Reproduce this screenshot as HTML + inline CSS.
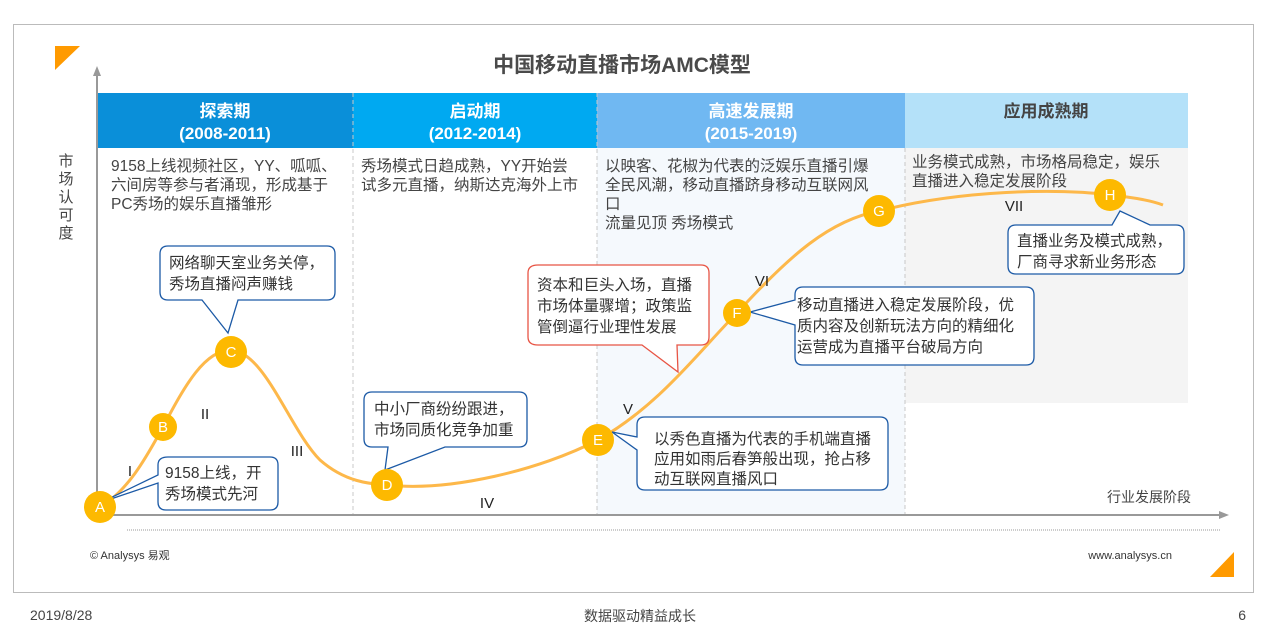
<!DOCTYPE html>
<html><head><meta charset="utf-8"><style>
html,body{margin:0;padding:0;background:#fff;}
svg{display:block;font-family:"Liberation Sans","Noto Sans CJK SC",sans-serif;}
</style></head><body>
<svg width="1280" height="643" viewBox="0 0 1280 643" xmlns="http://www.w3.org/2000/svg">
<rect x="13.5" y="24.5" width="1240" height="568" fill="#fff" stroke="#bbb" stroke-width="1"/>
<polygon points="55,46 80,46 55,70" fill="#ff9a00"/>
<polygon points="1234,552 1234,577 1210,577" fill="#ff9a00"/>
<text x="622" y="72" text-anchor="middle" font-size="21" font-weight="bold" fill="#4a4a4a">中国移动直播市场AMC模型</text>
<rect x="97" y="148" width="256" height="367" fill="#fff"/>
<rect x="353" y="148" width="244" height="367" fill="#fff"/>
<rect x="597" y="148" width="308" height="367" fill="#f5f9fd"/>
<rect x="905" y="148" width="283" height="255" fill="#f4f4f4"/>
<rect x="97" y="93" width="256" height="55" fill="#0a8fd9"/>
<rect x="353" y="93" width="244" height="55" fill="#00a9f1"/>
<rect x="597" y="93" width="308" height="55" fill="#70b8f2"/>
<rect x="905" y="93" width="283" height="55" fill="#b4e1f9"/>
<g font-size="17" font-weight="bold" fill="#fff" text-anchor="middle">
<text x="225" y="117">探索期</text><text x="225" y="139">(2008-2011)</text>
<text x="475" y="117">启动期</text><text x="475" y="139">(2012-2014)</text>
<text x="751" y="117">高速发展期</text><text x="751" y="139">(2015-2019)</text>
<text x="1046" y="117" fill="#444">应用成熟期</text>
</g>
<g stroke="#c8c8c8" stroke-dasharray="4,3" stroke-width="1">
<line x1="353" y1="93" x2="353" y2="515"/><line x1="597" y1="93" x2="597" y2="515"/><line x1="905" y1="148" x2="905" y2="515"/>
</g>
<line x1="97" y1="515" x2="97" y2="72" stroke="#999" stroke-width="2"/>
<polygon points="97,66 93,76 101,76" fill="#999"/>
<line x1="97" y1="515" x2="1222" y2="515" stroke="#999" stroke-width="2"/>
<polygon points="1229,515 1219,511 1219,519" fill="#999"/>
<line x1="127" y1="530" x2="1220" y2="530" stroke="#999" stroke-dasharray="1,1"/>
<g font-size="15" fill="#444" text-anchor="middle">
<text x="66" y="166">市</text><text x="66" y="184">场</text><text x="66" y="202">认</text><text x="66" y="220">可</text><text x="66" y="238">度</text>
</g>
<text x="1149" y="502" font-size="14" fill="#444" text-anchor="middle">行业发展阶段</text>
<g font-size="15.5" fill="#444">
<text x="111" y="171">9158上线视频社区，YY、呱呱、</text>
<text x="111" y="190">六间房等参与者涌现，形成基于</text>
<text x="111" y="209">PC秀场的娱乐直播雏形</text>
<text x="361" y="171">秀场模式日趋成熟，YY开始尝</text>
<text x="361" y="190">试多元直播，纳斯达克海外上市</text>
<text x="605" y="171">以映客、花椒为代表的泛娱乐直播引爆</text>
<text x="605" y="190">全民风潮，移动直播跻身移动互联网风</text>
<text x="605" y="209">口</text>
<text x="605" y="228">流量见顶  秀场模式</text>
<text x="912" y="167">业务模式成熟，市场格局稳定，娱乐</text>
<text x="912" y="186">直播进入稳定发展阶段</text>
</g>
<path d="M100,507 C130,490 150,450 163,427 C185,385 205,350 231,350 C265,352 290,430 320,460 C345,482 370,484 387,485 C450,492 540,470 598,440 C660,405 700,350 737,313 C790,255 830,220 879,211 C960,190 1060,188 1110,195 C1130,197 1150,200 1163,205" fill="none" stroke="#fdb84a" stroke-width="3"/>
<g font-size="15" fill="#222" text-anchor="middle">
<text x="130" y="476">I</text><text x="205" y="419">II</text><text x="297" y="456">III</text><text x="487" y="508">IV</text><text x="628" y="414">V</text><text x="762" y="286">VI</text><text x="1014" y="211">VII</text>
</g>
<g fill="#fff" stroke="#1c5aa6" stroke-width="1.3">
<path d="M168,457 H270 Q278,457 278,465 V502 Q278,510 270,510 H166 Q158,510 158,502 V483 L102,502 L158,475 V465 Q158,457 168,457 Z"/>
<path d="M168,246 H327 Q335,246 335,254 V292 Q335,300 327,300 H238 L228,333 L202,300 H168 Q160,300 160,292 V254 Q160,246 168,246 Z"/>
<path d="M372,392 H519 Q527,392 527,400 V439 Q527,447 519,447 H445 L385,470 L388,447 H372 Q364,447 364,439 V400 Q364,392 372,392 Z"/>
<path d="M645,417 H880 Q888,417 888,425 V482 Q888,490 880,490 H645 Q637,490 637,482 V450 L612,432 L637,437 V425 Q637,417 645,417 Z"/>
<path d="M803,287 H1026 Q1034,287 1034,295 V357 Q1034,365 1026,365 H803 Q795,365 795,357 V325 L750,312 L795,300 V295 Q795,287 803,287 Z"/>
<path d="M1016,225 H1112 L1120,211 L1150,225 H1176 Q1184,225 1184,233 V266 Q1184,274 1176,274 H1016 Q1008,274 1008,266 V233 Q1008,225 1016,225 Z"/>
</g>
<path d="M538,265 H701 Q709,265 709,273 V337 Q709,345 701,345 H677 L678,372 L642,345 H538 Q528,345 528,337 V273 Q528,265 538,265 Z" fill="#fff" stroke="#e85545" stroke-width="1.3"/>
<g font-size="15.5" fill="#333">
<text x="165" y="478">9158上线，开</text><text x="165" y="499">秀场模式先河</text>
<text x="169" y="268">网络聊天室业务关停，</text><text x="169" y="289">秀场直播闷声赚钱</text>
<text x="374" y="414">中小厂商纷纷跟进，</text><text x="374" y="435">市场同质化竞争加重</text>
<text x="537" y="290">资本和巨头入场，直播</text><text x="537" y="311">市场体量骤增；政策监</text><text x="537" y="332">管倒逼行业理性发展</text>
<text x="654" y="444">以秀色直播为代表的手机端直播</text><text x="654" y="464">应用如雨后春笋般出现，抢占移</text><text x="654" y="484">动互联网直播风口</text>
<text x="797" y="310">移动直播进入稳定发展阶段，优</text><text x="797" y="331">质内容及创新玩法方向的精细化</text><text x="797" y="352">运营成为直播平台破局方向</text>
<text x="1017" y="246">直播业务及模式成熟，</text><text x="1017" y="267">厂商寻求新业务形态</text>
</g>
<g fill="#fdb900">
<circle cx="100" cy="507" r="16"/><circle cx="163" cy="427" r="14"/><circle cx="231" cy="352" r="16"/><circle cx="387" cy="485" r="16"/><circle cx="598" cy="440" r="16"/><circle cx="737" cy="313" r="14"/><circle cx="879" cy="211" r="16"/><circle cx="1110" cy="195" r="16"/>
</g>
<g font-size="15" fill="#fff" text-anchor="middle">
<text x="100" y="512">A</text><text x="163" y="432">B</text><text x="231" y="357">C</text><text x="387" y="490">D</text><text x="598" y="445">E</text><text x="737" y="318">F</text><text x="879" y="216">G</text><text x="1110" y="200">H</text>
</g>
<text x="90" y="559" font-size="11" fill="#333">© Analysys 易观</text>
<text x="1172" y="559" font-size="11" fill="#333" text-anchor="end">www.analysys.cn</text>
<text x="30" y="620" font-size="14" fill="#444">2019/8/28</text>
<text x="640" y="621" font-size="14" fill="#444" text-anchor="middle">数据驱动精益成长</text>
<text x="1246" y="620" font-size="14" fill="#444" text-anchor="end">6</text>
</svg>
</body></html>
